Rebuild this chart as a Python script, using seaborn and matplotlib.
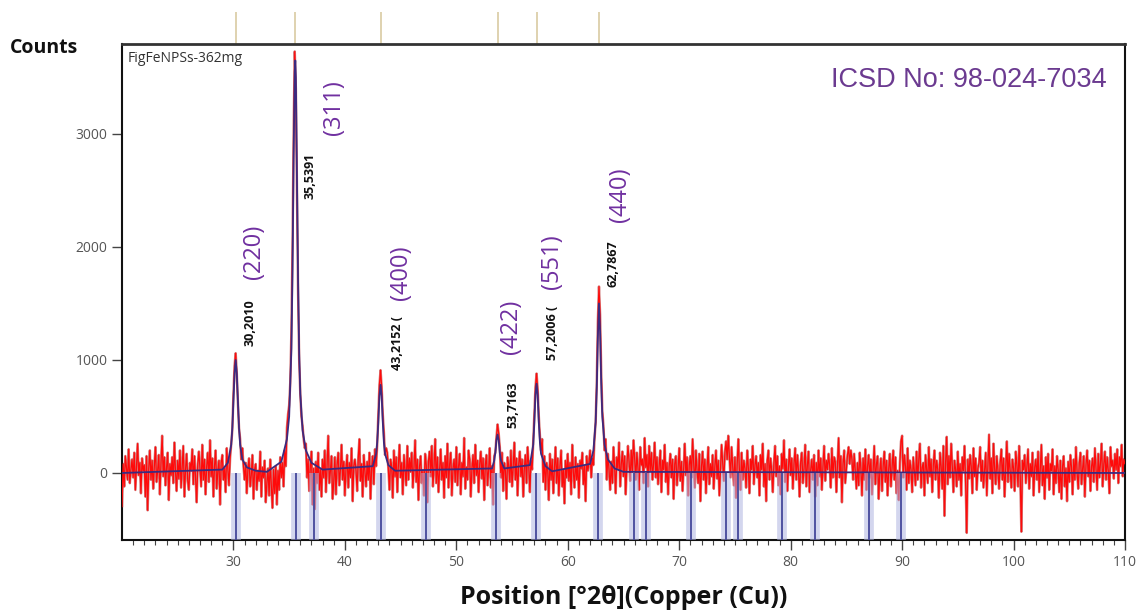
import numpy as np
import pandas as pd
import matplotlib
matplotlib.use("Agg")
import matplotlib.pyplot as plt
import matplotlib.transforms as mtransforms
import seaborn as sns

# ---------------- data ----------------
start_2theta = 20.0
step_2theta = 0.1
counts = [
    -300, 80, -120, 150, 40, -60, 210, -90, 30, 120,
    -40, 180, -150, 60, 260, -20, 90, -180, 130, 20,
    70, -210, 150, -330, 40, 200, -60, 110, -140, 60,
    230, -80, 20, 160, -190, 90, 330, -30, 140, -110,
    50, 180, -240, 80, -20, 140, -90, 270, 10, -160,
    110, -50, 200, -130, 60, 240, -210, 30, 170, -70,
    -150, 90, 20, 210, -100, 150, -40, -260, 80, 190,
    40, -120, 250, -60, 120, -190, 60, 180, -80, 290,
    -30, 130, -210, 60, 200, -140, 20, 110, -280, 90,
    160, -60, 40, -170, 220, 30, -110, 130, 250, 380,
    700, 950, 1060, 880, 620, 400, 300, 120, 220, 60,
    -60, 90, -180, 40, 130, -120, -20, 160, -230, 30,
    80, -150, 20, -70, 190, -210, 50, -40, 110, -260,
    -90, 40, -200, 120, -120, -310, 30, -180, 60, -280,
    20, -150, 140, -40, 90, -120, 200, 60, 400, 520,
    600, 800, 1250, 2000, 3000, 3730, 3400, 2500, 1600, 1000,
    700, 500, 420, 300, 220, 260, -40, 120, -160, 60,
    190, -280, 40, -320, 100, -90, 180, -150, 30, -210,
    120, -40, 200, -170, 60, 330, -90, 20, 150, -230,
    -80, 140, -190, 70, 180, -110, 30, 250, -60, 100,
    -200, 40, 160, -130, 90, -40, 220, -250, 60, 120,
    20, -160, 130, 300, -70, 80, -210, 160, 10, -120,
    100, -60, 180, -230, 40, 150, -100, 210, 60, 250,
    520, 780, 910, 760, 520, 360, 160, 220, 180, 40,
    -150, 120, 60, -220, 200, -30, 140, -170, 70, 250,
    -40, 90, -190, 160, 30, -110, 240, -60, 130, 10,
    180, -130, 50, 290, -80, 120, -240, 60, 150, -90,
    20, -200, 170, 70, -260, 110, 190, -30, 240, -120,
    60, 300, -90, 140, -170, 30, 210, -60, 90, -220,
    150, -40, 260, -130, 80, 180, -200, 40, 120, -80,
    230, -110, 60, 170, -190, 90, -30, 310, -140, 50,
    -60, 200, 120, -210, 40, 160, -90, 250, -20, 110,
    -170, 80, 190, -50, 130, -240, 70, 160, -110, 30,
    220, -130, 60, -280, 150, 180, 320, 430, 350, 230,
    -40, 180, -160, 90, 20, -230, 140, 60, -80, 200,
    -120, 50, 270, -60, 130, -200, 80, 190, -30, 120,
    -210, 40, 160, -90, 230, 60, -170, 110, 30, 280,
    520, 760, 880, 740, 500, 330, 200, 300, -80, 150,
    -150, 90, 20, -240, 170, -60, 120, -180, 40, 230,
    -90, 130, -200, 60, 200, -120, 30, -270, 110, -40,
    170, -70, 90, -190, 250, 10, -130, 140, -60, 80,
    -220, 110, 40, 180, -100, 60, -250, 150, 20, 90,
    200, -40, 130, 70, 300, 450, 800, 1350, 1650, 1400,
    900, 550, 420, 200, 300, -60, 170, 30, -150, 100,
    -90, 230, 60, -180, 140, 40, 270, -120, 80, 190,
    -30, 150, -190, 60, 240, 100, -70, 200, 10, 290,
    130, -60, 180, 40, -150, 230, 70, 120, -90, 310,
    50, 160, -120, 240, 20, 180, -60, 90, 270, -40,
    140, -100, 60, 200, -170, 110, 30, 250, -80, 90,
    -190, 60, 170, -40, 120, -230, 80, 150, -110, 40,
    220, -70, 100, -160, 40, 260, -20, 140, -200, 70,
    150, -40, 300, 80, -130, 200, 20, -90, 170, -250,
    60, 190, -60, 120, -180, 40, 230, -100, 80, -30,
    160, -140, 60, 200, -50, 110, -200, 30, 250, 90,
    -70, 180, 280, 120, 330, 150, -40, 230, 60, -110,
    140, -220, 80, 300, 20, -150, 180, -60, 110, 40,
    -130, 200, 50, -180, 120, 30, 240, -100, 70, 150,
    -40, 90, -200, 160, 30, 260, -120, 80, -250, 110,
    200, -60, 130, 20, -170, 90, 240, -30, 150, -110,
    60, -190, 170, 40, 290, -80, 120, -160, 50, 210,
    -20, 130, -140, 80, 220, -60, 160, 20, -210, 100,
    180, -90, 40, 250, -120, 70, 190, -170, 30, 120,
    -60, 160, -210, 90, -110, 200, -30, 130, -150, 60,
    240, -70, 110, 30, 170, 60, -130, 220, -40, 140,
    100, -170, 60, 310, -40, 150, -260, 80, 200, -90,
    40, 160, 230, 80, 200, 120, -60, 170, 20, -140,
    90, -110, 180, 40, -200, 130, -60, 210, -150, 60,
    160, -40, 120, -190, 30, 240, -100, 80, 150, -230,
    20, 130, -160, 60, 190, -80, 110, -200, 40, 170,
    -120, 50, 200, -60, 140, -180, 20, -240, 90, 280,
    330, -40, 160, 60, -150, 220, -90, 110, 30, -170,
    140, 20, -110, 190, -60, 120, 260, -130, 50, 90,
    -200, 160, 40, -90, 230, -30, 120, -170, 70, 200,
    -60, 110, 30, -220, 180, 60, -140, 240, -380, 90,
    320, -100, 150, -40, 260, 60, -170, 110, 30, -120,
    190, -60, 80, -200, 140, 20, 240, -90, -530, 120,
    -50, 160, 60, -180, 220, -30, 130, -150, 40, 90,
    230, -70, 110, -130, 30, 180, -200, 60, 340, -50,
    130, -180, 260, 40, -100, 150, 20, -140, 90, 210,
    -60, 130, -210, 50, 280, -80, 170, 10, -130, 120,
    40, -160, 190, 70, -120, 240, -40, -520, 110, 30,
    160, -90, 60, 210, -140, 80, -30, 180, -200, 50,
    120, -60, 190, -170, 40, 250, -110, 60, -230, 140,
    -40, 170, -150, 80, 20, 210, -190, 60, -90, 150,
    30, -170, 110, -230, 60, 150, -120, 40, -250, 100,
    -80, 160, 50, -190, 120, -60, 230, 10, -140, 90,
    180, -100, 40, 150, -210, 70, 200, -30, 110, -160,
    60, 130, -80, 220, 30, -150, 170, -40, 90, 260,
    -120, 80, 190, -60, 140, 20, -180, 230, 60, 110,
    -50, 170, 30, 210, -90, 140, 60, 250, -30, 120,
    80,
]

fit_2theta = [20, 29.0, 29.5, 29.8, 29.9, 30.0, 30.1, 30.2, 30.3, 30.4, 30.5, 30.6, 30.8, 31.2, 32.0, 33.0,
              34.3, 34.8, 35.0, 35.2, 35.3, 35.4, 35.5, 35.55, 35.6, 35.7, 35.8, 35.9, 36.0, 36.2, 36.5,
              37.0, 38.0,
              42.5, 42.8, 42.9, 43.0, 43.1, 43.2, 43.3, 43.4, 43.5, 43.6, 43.9, 44.5,
              53.2, 53.4, 53.5, 53.6, 53.7, 53.8, 53.9, 54.0, 54.3,
              56.6, 56.9, 57.0, 57.1, 57.2, 57.3, 57.4, 57.5, 57.6, 58.0, 58.6,
              62.0, 62.3, 62.5, 62.6, 62.7, 62.8, 62.9, 63.0, 63.1, 63.3, 63.6, 64.2, 65.0, 110]
fit_counts = [0, 30, 90, 250, 400, 640, 880, 1000, 880, 640, 400, 250, 120, 50, 20, 10,
              100, 300, 500, 1100, 1800, 2800, 3550, 3650, 3500, 2600, 1700, 1050, 700, 380, 200,
              90, 30,
              60, 170, 270, 450, 680, 780, 680, 450, 270, 170, 70, 20,
              40, 110, 180, 290, 340, 290, 180, 110, 40,
              70, 250, 450, 690, 790, 690, 450, 270, 170, 60, 15,
              80, 200, 450, 750, 1200, 1500, 1250, 800, 500, 250, 120, 40, 10, 0]

ref_positions = [30.2, 35.6, 37.25, 43.25, 47.3, 53.57, 57.16, 62.7, 65.9, 67.0,
                 71.1, 74.2, 75.3, 79.2, 82.2, 87.0, 89.9]

peak_positions = [30.2010, 35.5391, 43.2152, 53.7163, 57.2006, 62.7867]
peak_texts = ["30,2010", "35,5391", "43,2152 (", "53,7163", "57,2006 (", "62,7867"]
peak_text_xy = [(31.5, 1330), (36.9, 2630), (44.7, 1150), (55.05, 600), (58.6, 1240), (64.1, 1850)]
hkl_texts = ["(220)", "(311)", "(400)", "(422)", "(551)", "(440)"]
hkl_text_xy = [(31.8, 1960), (39.0, 3230), (45.0, 1770), (54.9, 1290), (58.6, 1870), (64.7, 2460)]

x_ticks = [30, 40, 50, 60, 70, 80, 90, 100, 110]
y_ticks = [0, 1000, 2000, 3000]

# ---------------- figure ----------------
sns.set_style("ticks")
plt.rcParams['font.family'] = ['Open Sans', 'DejaVu Sans']

fig = plt.figure(figsize=(11.39, 6.10), dpi=100)
ax = fig.add_axes([122 / 1139, 1 - 540 / 610, (1125 - 122) / 1139, (540 - 44) / 610])

two_theta = np.round(start_2theta + step_2theta * np.arange(len(counts)), 2)
df = pd.DataFrame({"pos": two_theta, "counts": counts})
fit_df = pd.DataFrame({"pos": fit_2theta, "counts": fit_counts})

sns.lineplot(data=df, x="pos", y="counts", ax=ax, color="#b01818", lw=1.8, alpha=0.55,
             estimator=None, sort=False, zorder=2)
sns.lineplot(data=df, x="pos", y="counts", ax=ax, color="#ff0a0a", lw=0.9,
             estimator=None, sort=False, zorder=3)
sns.lineplot(data=fit_df, x="pos", y="counts", ax=ax, color="#3b2a80", lw=1.3,
             estimator=None, sort=False, zorder=4)

ymin, ymax = -593, 3796
# reference sticks
ax.vlines(ref_positions, ymin, 0, colors="#b0b5e0", lw=7, alpha=0.55, zorder=5)
ax.vlines(ref_positions, ymin, 0, colors="#45489a", lw=1.3, zorder=6)

# top tick marks above the plot
trans = mtransforms.blended_transform_factory(ax.transData, ax.transAxes)
ax.vlines(peak_positions, 1.0, 1.0 + 32 / 496, colors="#d9cba2", lw=1.2,
          transform=trans, clip_on=False)

ax.set_xlim(20, 110)
ax.set_ylim(ymin, ymax)
ax.set_xticks(x_ticks)
ax.set_xticks(np.arange(21, 110, 1), minor=True)
ax.set_yticks(y_ticks)
ax.tick_params(axis="both", which="major", direction="out", length=7, width=1,
               colors="#444444", labelsize=10, labelcolor="#555555")
ax.tick_params(axis="x", which="minor", direction="out", length=3.5, width=0.8, colors="#444444")
for lab in ax.get_xticklabels() + ax.get_yticklabels():
    lab.set_family(["Open Sans", "DejaVu Sans"])
for side in ["left", "right", "bottom"]:
    ax.spines[side].set_color("#111111")
    ax.spines[side].set_linewidth(1.5)
ax.spines["top"].set_color("#333333")
ax.spines["top"].set_linewidth(2)

ax.set_xlabel("Position [°2θ](Copper (Cu))", fontsize=18, fontweight="bold",
              color="#111111", labelpad=11)
ax.set_ylabel("")
fig.text(10 / 1139, 1 - 48 / 610, "Counts", fontsize=14, fontweight="bold",
         color="#111111", ha="left", va="center")

ax.text(0.006, 0.985, "FigFeNPSs-362mg", transform=ax.transAxes, fontsize=10,
        color="#333333", ha="left", va="top")
ax.text(0.982, 0.928, "ICSD No: 98-024-7034", transform=ax.transAxes, fontsize=19.5,
        color="#6b3a90", ha="right", va="center", family=["Liberation Sans", "DejaVu Sans"])

for t, (x, y) in zip(peak_texts, peak_text_xy):
    ax.text(x, y, t, rotation=90, fontsize=9, fontweight="bold", color="#111111",
            ha="center", va="center", zorder=7)
for t, (x, y) in zip(hkl_texts, hkl_text_xy):
    ax.text(x, y, t, rotation=90, fontsize=17, color="#7030a0",
            ha="center", va="center", zorder=7)

fig.savefig("out.png", dpi=100)
